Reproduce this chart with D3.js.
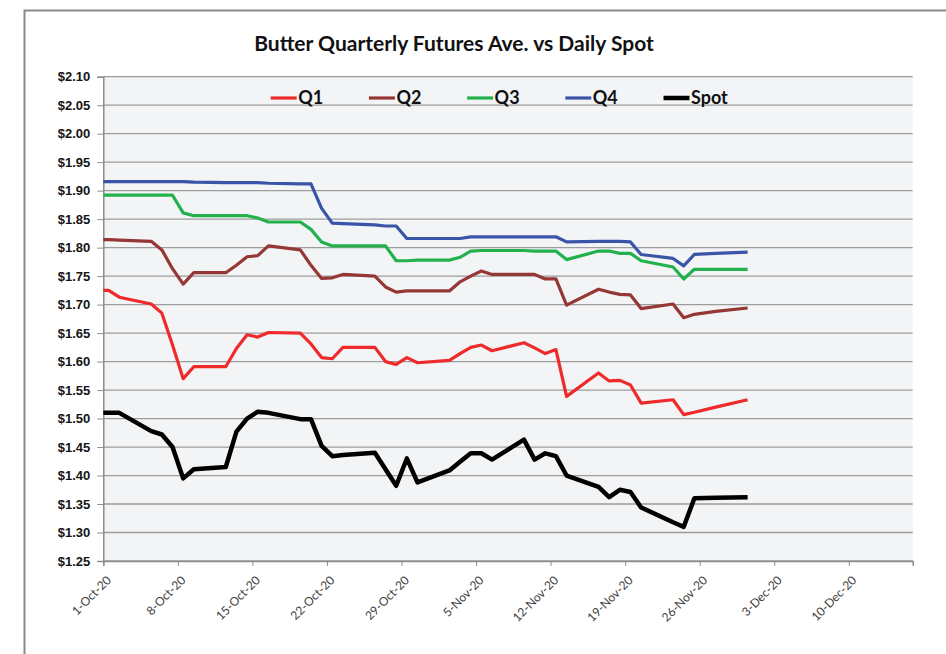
<!DOCTYPE html>
<html>
<head>
<meta charset="utf-8">
<script src="https://cdn.jsdelivr.net/npm/d3@7"></script>
<style>
    body { margin: 0; background: #fff; }
    svg { display: block; font-family: "Liberation Sans", Arial, sans-serif; }
</style>
</head>
<body>
<svg id="chart" width="946" height="654"></svg>
<script>
// trading days (first point sits left of the axis start, so it gets clipped)
const dates = [
    '2020-09-30', '2020-10-01', '2020-10-02',
    '2020-10-05', '2020-10-06', '2020-10-07', '2020-10-08', '2020-10-09',
    '2020-10-12', '2020-10-13', '2020-10-14', '2020-10-15', '2020-10-16',
    '2020-10-19', '2020-10-20', '2020-10-21', '2020-10-22', '2020-10-23',
    '2020-10-26', '2020-10-27', '2020-10-28', '2020-10-29', '2020-10-30',
    '2020-11-02', '2020-11-03', '2020-11-04', '2020-11-05', '2020-11-06',
    '2020-11-09', '2020-11-10', '2020-11-11', '2020-11-12', '2020-11-13',
    '2020-11-16', '2020-11-17', '2020-11-18', '2020-11-19', '2020-11-20',
    '2020-11-23', '2020-11-24', '2020-11-25', '2020-11-27', '2020-11-30'
];

const q1 = [
    1.725, 1.725, 1.713,
    1.701, 1.685, 1.629, 1.570, 1.591,
    1.591, 1.623, 1.647, 1.643, 1.651,
    1.650, 1.631, 1.607, 1.605, 1.625,
    1.625, 1.600, 1.595, 1.607, 1.598,
    1.602, 1.614, 1.625, 1.629, 1.619,
    1.633, 1.624, 1.614, 1.621, 1.539,
    1.580, 1.566, 1.567, 1.559, 1.527,
    1.533, 1.507, 1.511, 1.520, 1.533
];

const q2 = [
    1.814, 1.814, 1.813,
    1.811, 1.796, 1.763, 1.736, 1.756,
    1.756, 1.769, 1.784, 1.786, 1.803,
    1.796, 1.769, 1.746, 1.747, 1.753,
    1.750, 1.731, 1.722, 1.724, 1.724,
    1.724, 1.740, 1.750, 1.759, 1.753,
    1.753, 1.753, 1.745, 1.745, 1.699,
    1.727, 1.722, 1.718, 1.717, 1.693,
    1.701, 1.677, 1.683, 1.688, 1.694
];

const q3 = [
    1.892, 1.892, 1.892,
    1.892, 1.892, 1.892, 1.861, 1.856,
    1.856, 1.856, 1.856, 1.852, 1.845,
    1.845, 1.832, 1.810, 1.803, 1.803,
    1.803, 1.803, 1.777, 1.777, 1.778,
    1.778, 1.783, 1.794, 1.795, 1.795,
    1.795, 1.794, 1.794, 1.794, 1.779,
    1.794, 1.794, 1.790, 1.790, 1.777,
    1.766, 1.745, 1.762, 1.762, 1.762
];

const q4 = [
    1.916, 1.916, 1.916,
    1.916, 1.916, 1.916, 1.916, 1.915,
    1.914, 1.914, 1.914, 1.914, 1.913,
    1.912, 1.912, 1.869, 1.843, 1.842,
    1.840, 1.838, 1.838, 1.816, 1.816,
    1.816, 1.816, 1.819, 1.819, 1.819,
    1.819, 1.819, 1.819, 1.819, 1.810,
    1.811, 1.811, 1.811, 1.810, 1.788,
    1.781, 1.768, 1.788, 1.790, 1.792
];

const spot = [
    1.510, 1.510, 1.510,
    1.478, 1.472, 1.450, 1.395, 1.411,
    1.415, 1.477, 1.500, 1.512, 1.510,
    1.499, 1.499, 1.452, 1.434, 1.436,
    1.440, 1.411, 1.382, 1.430, 1.388,
    1.409, 1.424, 1.439, 1.439, 1.428,
    1.463, 1.428, 1.439, 1.434, 1.400,
    1.380, 1.362, 1.375, 1.371, 1.344,
    1.318, 1.310, 1.360, 1.361, 1.362
];

const seriesNames = ['Q1', 'Q2', 'Q3', 'Q4', 'Spot'];
const seriesValues = [q1, q2, q3, q4, spot];
const seriesColors = ['#ee2a2a', '#953735', '#22b14c', '#3a55a8', '#000000'];

const yTicks = [1.25, 1.30, 1.35, 1.40, 1.45, 1.50, 1.55, 1.60, 1.65, 1.70,
    1.75, 1.80, 1.85, 1.90, 1.95, 2.00, 2.05, 2.10];
const xStart = '2020-10-01';
const xEnd = '2020-12-16';
const xTickCount = 11;   // weekly ticks from 1-Oct

const plot = { left: 103.3, right: 912.7, top: 76.7, bottom: 561 };

const parse = d3.utcParse('%Y-%m-%d');
const svg = d3.select('#chart');

// outer chart frame
svg.append('path')
    .attr('d', 'M24.5,654 V10.5 H946')
    .attr('fill', 'none')
    .attr('stroke', '#8a8a8a')
    .attr('stroke-width', 2);

svg.append('text')
    .attr('x', 454)
    .attr('y', 51)
    .attr('text-anchor', 'middle')
    .attr('font-family', 'Lato, "Liberation Sans", sans-serif')
    .attr('font-size', '21px')
    .attr('font-weight', 'bold')
    .attr('fill', '#111')
    .text('Butter Quarterly Futures Ave. vs Daily Spot');

const x = d3.scaleUtc()
    .domain([parse(xStart), parse(xEnd)])
    .range([plot.left, plot.right]);

const y = d3.scaleLinear()
    .domain([yTicks[0], yTicks[yTicks.length - 1]])
    .range([plot.bottom, plot.top]);

svg.append('rect')
    .attr('x', plot.left)
    .attr('y', plot.top)
    .attr('width', plot.right - plot.left)
    .attr('height', plot.bottom - plot.top)
    .attr('fill', '#f3f4f6');

// horizontal gridlines
svg.append('g')
    .selectAll('line')
    .data(yTicks)
    .join('line')
    .attr('x1', plot.left)
    .attr('x2', plot.right)
    .attr('y1', d => y(d))
    .attr('y2', d => y(d))
    .attr('stroke', '#9c9c9c')
    .attr('stroke-width', 1.3);

// y axis
const yAxis = svg.append('g')
    .attr('transform', `translate(${plot.left},0)`)
    .call(d3.axisLeft(y).tickValues(yTicks).tickSize(6).tickPadding(7)
        .tickFormat(d3.format('$.2f')));
yAxis.select('.domain').attr('stroke', '#8c8c8c').attr('stroke-width', 1.5);
yAxis.selectAll('.tick line').attr('stroke', '#8c8c8c');
yAxis.selectAll('text')
    .attr('font-family', '"Liberation Sans", Arial, sans-serif')
    .attr('font-size', '13px')
    .attr('font-weight', 'bold')
    .attr('fill', '#141414');

// x axis
const start = parse(xStart);
const xTicks = d3.range(xTickCount).map(i => d3.utcDay.offset(start, i * 7));
const xAxis = svg.append('g')
    .attr('transform', `translate(0,${plot.bottom})`)
    .call(d3.axisBottom(x).tickValues(xTicks).tickSize(5).tickFormat(d3.utcFormat('%-d-%b-%y')));
xAxis.select('.domain').attr('stroke', '#8c8c8c').attr('stroke-width', 1.5);
xAxis.selectAll('.tick line').attr('stroke', '#8c8c8c');
xAxis.selectAll('text')
    .attr('font-family', 'Lato, "Liberation Sans", sans-serif')
    .attr('font-size', '12px')
    .attr('fill', '#404040')
    .attr('text-anchor', 'end')
    .attr('dy', null)
    .attr('y', null)
    .attr('transform', 'translate(8,20) rotate(-45)');

// lines
svg.append('clipPath')
    .attr('id', 'plot-clip')
    .append('rect')
    .attr('x', plot.left)
    .attr('y', plot.top - 10)
    .attr('width', plot.right - plot.left)
    .attr('height', plot.bottom - plot.top + 20);

const line = d3.line()
    .x(d => x(d3.utcHour.offset(parse(d.date), 12)))
    .y(d => y(d.value));

const series = seriesNames.map((name, i) => ({
    name: name,
    color: seriesColors[i],
    points: dates.map((date, j) => ({ date: date, value: seriesValues[i][j] }))
}));

svg.append('g')
    .attr('clip-path', 'url(#plot-clip)')
    .selectAll('path')
    .data(series)
    .join('path')
    .attr('d', d => line(d.points))
    .attr('fill', 'none')
    .attr('stroke', d => d.color)
    .attr('stroke-width', d => d.name === 'Spot' ? 4.5 : 3.2)
    .attr('stroke-linejoin', 'round');

// legend
const legend = svg.append('g')
    .attr('transform', 'translate(270.7,98)');

const legendItem = legend.selectAll('g')
    .data(series)
    .join('g')
    .attr('transform', (d, i) => `translate(${i * 98.2},0)`);

legendItem.append('line')
    .attr('x1', 0)
    .attr('x2', 26)
    .attr('stroke', d => d.color)
    .attr('stroke-width', d => d.name === 'Spot' ? 4.5 : 3.2);

legendItem.append('text')
    .attr('x', 27.5)
    .attr('y', 6)
    .attr('font-family', 'Lato, "Liberation Sans", sans-serif')
    .attr('font-size', '18px')
    .attr('font-weight', 'bold')
    .attr('fill', '#111')
    .text(d => d.name);
</script>
</body>
</html>
